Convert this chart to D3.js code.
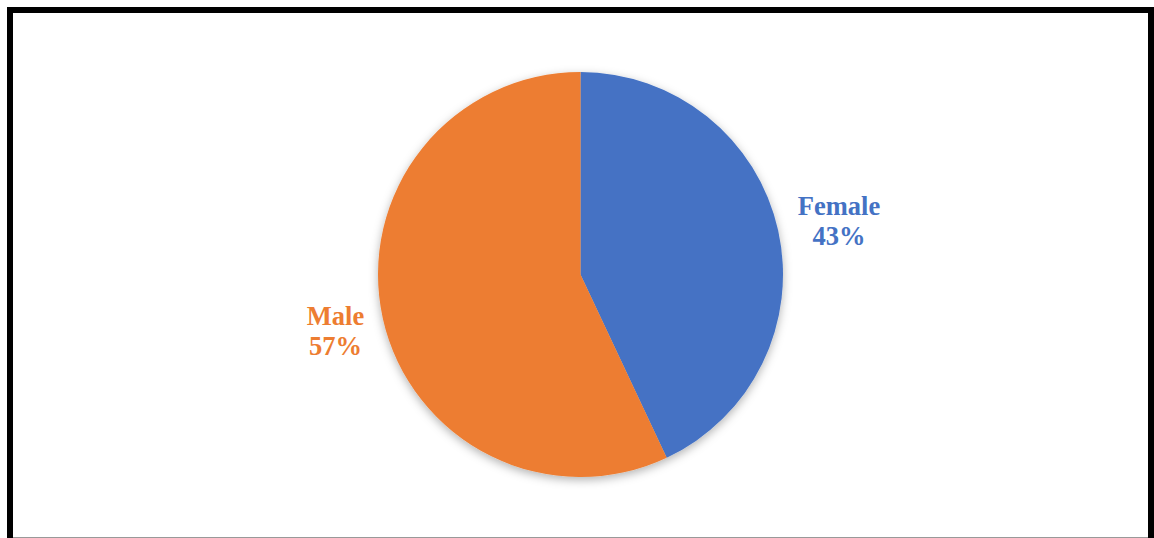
<!DOCTYPE html>
<html>
<head>
<meta charset="utf-8">
<script src="https://cdn.jsdelivr.net/npm/d3@7"></script>
<style>
html,body{margin:0;padding:0;background:#fff;overflow:hidden;}
svg{display:block;}
</style>
</head>
<body>
<svg id="chart" width="1154" height="538"></svg>
<script>
const categories = ["Female", "Male"];
const values = [43, 57];
const labels = ["43%", "57%"];
const colors = ["#4472C4", "#ED7D31"];

const svg = d3.select("#chart");
const W = 1154, H = 538;

// frame
svg.append("rect").attr("x", 10).attr("y", 10).attr("width", 1141).attr("height", 540)
  .attr("fill", "#fff").attr("stroke", "#000").attr("stroke-width", 6);
svg.append("line").attr("x1", 13).attr("x2", 1148).attr("y1", 537.5).attr("y2", 537.5)
  .attr("stroke", "#999").attr("stroke-width", 1);

const defs = svg.append("defs");
const f = defs.append("filter").attr("id", "shadow").attr("x", "-20%").attr("y", "-20%").attr("width", "140%").attr("height", "140%");
f.append("feDropShadow").attr("dx", 0).attr("dy", 3).attr("stdDeviation", 5)
  .attr("flood-color", "#000").attr("flood-opacity", 0.3);

const cx = 580.5, cy = 274.5, r = 202.5;
const pie = d3.pie().sort(null).value(d => d)(values);
const arc = d3.arc().innerRadius(0).outerRadius(r);

const g = svg.append("g").attr("transform", `translate(${cx},${cy})`).attr("filter", "url(#shadow)");
g.selectAll("path").data(pie).join("path")
  .attr("d", arc)
  .attr("fill", (d, i) => colors[i]);

const labelPos = [[839, 214.5], [335.5, 324.5]];
categories.forEach((c, i) => {
  const t = svg.append("text")
    .attr("x", labelPos[i][0]).attr("y", labelPos[i][1])
    .attr("text-anchor", "middle")
    .attr("font-family", "'Liberation Serif', 'Times New Roman', serif")
    .attr("font-weight", "bold").attr("font-size", 26.5)
    .attr("fill", colors[i]);
  t.append("tspan").attr("x", labelPos[i][0]).text(c);
  t.append("tspan").attr("x", labelPos[i][0]).attr("dy", 30.5).text(labels[i]);
});
</script>
</body>
</html>
